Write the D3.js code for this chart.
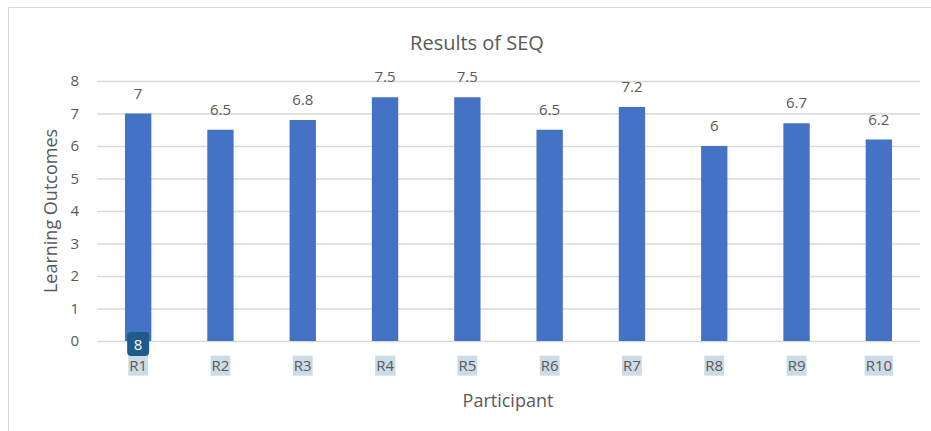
<!DOCTYPE html>
<html>
<head>
<meta charset="utf-8">
<script src="https://cdn.jsdelivr.net/npm/d3@7"></script>
<style>
body { margin: 0; background: #fff; }
text { font-family: "Open Sans", "Liberation Sans", sans-serif; fill: #595959; }
</style>
</head>
<body>
<div id="chart"></div>
<script>
var participants = ["R1", "R2", "R3", "R4", "R5", "R6", "R7", "R8", "R9", "R10"];
var outcomes = [7, 6.5, 6.8, 7.5, 7.5, 6.5, 7.2, 6, 6.7, 6.2];
var yTicks = [0, 1, 2, 3, 4, 5, 6, 7, 8];

var width = 931, height = 431;
var margin = {top: 81, right: 11, bottom: 90, left: 97};

var svg = d3.select("#chart")
.append("svg")
.attr("width", width)
.attr("height", height);

// chart frame (only top and left edges visible in the picture)
svg.append("path")
.attr("d", "M8.5,431 V7.5 H931")
.attr("fill", "none")
.attr("stroke", "#d9d9d9");

var x = d3.scaleBand()
.domain(participants)
.range([margin.left, width - margin.right])
.paddingInner(0.68)
.paddingOuter(0.34);

var y = d3.scaleLinear()
.domain([0, 8])
.range([height - margin.bottom, margin.top]);

// gridlines
svg.append("g")
.selectAll("line")
.data(yTicks)
.enter()
.append("line")
.attr("x1", margin.left)
.attr("x2", width - margin.right)
.attr("y1", d => y(d) + 0.5)
.attr("y2", d => y(d) + 0.5)
.attr("stroke", "#d9d9d9")
.attr("stroke-width", 1.5);

// y axis tick labels
var yAxis = d3.axisLeft(y).tickValues(yTicks).tickSize(0).tickPadding(18);
var gy = svg.append("g")
.attr("transform", "translate(" + margin.left + ",0)")
.call(yAxis);
gy.select(".domain").remove();
gy.selectAll("text").style("font-size", "15px").attr("fill", "#595959");

// bars
svg.append("g")
.selectAll("rect")
.data(outcomes)
.enter()
.append("rect")
.attr("x", (d, i) => x(participants[i]))
.attr("y", d => y(d))
.attr("width", x.bandwidth())
.attr("height", d => y(0) - y(d))
.attr("fill", "#4472c4");

// value labels
svg.append("g")
.selectAll("text")
.data(outcomes)
.enter()
.append("text")
.attr("x", (d, i) => x(participants[i]) + x.bandwidth() / 2)
.attr("y", d => y(d) - 15)
.attr("text-anchor", "middle")
.style("font-size", "15px")
.text(d => d);

// x axis labels with the light selection highlight
var xAxis = d3.axisBottom(x).tickSize(0).tickPadding(19);
var gx = svg.append("g")
.attr("transform", "translate(0," + y(0) + ")")
.call(xAxis);
gx.select(".domain").remove();
gx.selectAll(".tick text").style("font-size", "15px").attr("fill", "#595959");
gx.selectAll(".tick").each(function() {
    var t = d3.select(this).select("text");
    var bb = t.node().getBBox();
    d3.select(this).insert("rect", "text")
    .attr("x", bb.x - 1)
    .attr("y", bb.y + 1)
    .attr("width", bb.width + 2)
    .attr("height", bb.height)
    .attr("fill", "#cddbe6");
});

// the little dark badge sitting on R1
var badge = svg.append("g")
.attr("transform", "translate(" + (x("R1") + x.bandwidth() / 2) + "," + y(0) + ")");
badge.append("rect")
.attr("x", -11)
.attr("y", -9)
.attr("width", 22)
.attr("height", 24)
.attr("rx", 4)
.attr("fill", "#1f5a8a");
badge.append("text")
.attr("y", 9)
.attr("text-anchor", "middle")
.style("font-size", "15px")
.style("fill", "#ffffff")
.text("8");

// titles
svg.append("text")
.attr("x", 477)
.attr("y", 50)
.attr("text-anchor", "middle")
.style("font-size", "20px")
.text("Results of SEQ");

svg.append("text")
.attr("x", 508)
.attr("y", 407)
.attr("text-anchor", "middle")
.style("font-size", "18px")
.text("Participant");

svg.append("text")
.attr("transform", "translate(57," + (y(4)) + ") rotate(-90)")
.attr("text-anchor", "middle")
.style("font-size", "18px")
.text("Learning Outcomes");
</script>
</body>
</html>
